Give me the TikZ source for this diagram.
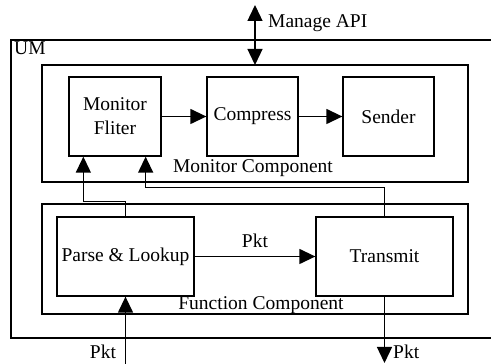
\documentclass[tikz,border=0pt]{standalone}
\usepackage{fontspec}
\setmainfont{Liberation Serif}
\usetikzlibrary{arrows.meta}
\tikzset{
  umline/.style={line width=1.3pt},
  unitbox/.style={umline,draw,inner sep=0pt,align=center,minimum height=79pt},
  pktarrow/.style={umline,-{Triangle[length=16pt,width=15pt]}},
  lbl/.style={inner sep=0pt}
}

\begin{document}
\begin{tikzpicture}[x=1pt,y=1pt,font=\fontsize{19.5}{24}\selectfont]
\path[use as bounding box] (0,0) rectangle (491,364);
% UM frame, open at the right edge
\draw[umline] (492,324) -- (11,324) -- (11,26) -- (492,26);
\node[lbl,anchor=north west] (um) at (14,322) {UM};
% monitor component
\draw[umline] (42,182) rectangle (468,299);
\coordinate (montop) at (255,299);
\node[unitbox,minimum width=92pt] (fliter) at (115,247.5) {Monitor\\Fliter};
\node[unitbox,minimum width=91pt] (compress) at (252.5,247.5) {\raisebox{-2pt}{Compress}};
\node[unitbox,minimum width=91pt] (sender) at (388.5,247.5) {Sender};
\node[lbl] (moncomp) at (253,196) {Monitor Component};
% function component
\draw[umline] (42,50) rectangle (468,160);
\node[unitbox,minimum width=137pt] (parse) at (125.5,107.5) {Parse \& Lookup};
\node[unitbox,minimum width=137pt] (transmit) at (384.5,107.5) {Transmit};
\node[lbl] (funccomp) at (261,59) {Function Component};
% manage api
\coordinate (apitop) at (255,359);
\draw[umline,{Triangle[length=16pt,width=15pt]}-{Triangle[length=16pt,width=15pt]}] (apitop) -- (montop);
\node[lbl,anchor=west] (api) at (268,341) {Manage API};
% data path
\draw[pktarrow] (fliter) -- (compress);
\draw[pktarrow] (compress) -- (sender);
\draw[pktarrow] (parse) -- node[lbl,above=8pt] (pktmid) {Pkt} (transmit);
\draw[pktarrow] (parse.north) -- ++(0,15) -| ([xshift=15pt]fliter.south west);
\draw[pktarrow] (transmit.north) -- ++(0,29) -| ([xshift=-16pt]fliter.south east);
% packets in and out
\coordinate (pktin) at (125.5,0);
\coordinate (pktout) at (384.5,1);
\draw[pktarrow] (pktin) -- (parse.south);
\draw[pktarrow] (transmit.south) -- (pktout);
\node[lbl] (pktinlbl) at (103,12) {Pkt};
\node[lbl,anchor=west] (pktoutlbl) at (393,12) {Pkt};
\end{tikzpicture}
\end{document}
